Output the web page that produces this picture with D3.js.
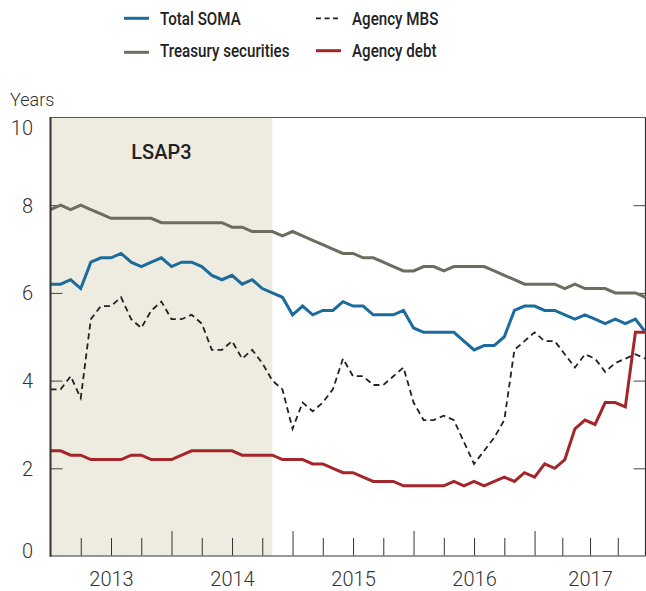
<!DOCTYPE html>
<html>
<head>
<meta charset="utf-8">
<script src="https://cdn.jsdelivr.net/npm/d3@7"></script>
<style>
  body { margin: 0; background: #fff; }
  svg { font-family: Roboto, "Open Sans", sans-serif; }
</style>
</head>
<body>
<div id="chart"></div>
<script>
// monthly observations, Jan 2013 - Dec 2017
const months = d3.timeMonth.range(new Date(2013, 0, 1), new Date(2018, 0, 1));
const years = [2013, 2014, 2015, 2016, 2017];
const yTicks = [0, 2, 4, 6, 8, 10];
const lsap3 = ['2013-01', '2014-11'];

const totalSoma = [6.2,6.2,6.3,6.1,6.7,6.8,6.8,6.9,6.7,6.6,6.7,6.8,6.6,6.7,6.7,6.6,6.4,6.3,6.4,6.2,6.3,6.1,6.0,5.9,5.5,5.7,5.5,5.6,5.6,5.8,5.7,5.7,5.5,5.5,5.5,5.6,5.2,5.1,5.1,5.1,5.1,4.9,4.7,4.8,4.8,5.0,5.6,5.7,5.7,5.6,5.6,5.5,5.4,5.5,5.4,5.3,5.4,5.3,5.4,5.1];
const treasury = [7.9,8.0,7.9,8.0,7.9,7.8,7.7,7.7,7.7,7.7,7.7,7.6,7.6,7.6,7.6,7.6,7.6,7.6,7.5,7.5,7.4,7.4,7.4,7.3,7.4,7.3,7.2,7.1,7.0,6.9,6.9,6.8,6.8,6.7,6.6,6.5,6.5,6.6,6.6,6.5,6.6,6.6,6.6,6.6,6.5,6.4,6.3,6.2,6.2,6.2,6.2,6.1,6.2,6.1,6.1,6.1,6.0,6.0,6.0,5.9];
const agencyMbs = [3.8,3.8,4.1,3.6,5.4,5.7,5.7,5.9,5.4,5.2,5.6,5.8,5.4,5.4,5.5,5.3,4.7,4.7,4.9,4.5,4.7,4.4,4.0,3.8,2.9,3.5,3.3,3.5,3.8,4.5,4.1,4.1,3.9,3.9,4.1,4.3,3.5,3.1,3.1,3.2,3.1,2.6,2.1,2.4,2.7,3.1,4.7,4.9,5.1,4.9,4.9,4.6,4.3,4.6,4.5,4.2,4.4,4.5,4.6,4.5];
const agencyDebt = [2.4,2.4,2.3,2.3,2.2,2.2,2.2,2.2,2.3,2.3,2.2,2.2,2.2,2.3,2.4,2.4,2.4,2.4,2.4,2.3,2.3,2.3,2.3,2.2,2.2,2.2,2.1,2.1,2.0,1.9,1.9,1.8,1.7,1.7,1.7,1.6,1.6,1.6,1.6,1.6,1.7,1.6,1.7,1.6,1.7,1.8,1.7,1.9,1.8,2.1,2.0,2.2,2.9,3.1,3.0,3.5,3.5,3.4,5.1,5.1];

const series = [
  { name: 'Total SOMA', values: totalSoma, color: '#1b6b9c', width: 3, dash: null },
  { name: 'Treasury securities', values: treasury, color: '#6b6d5e', width: 3, dash: null },
  { name: 'Agency MBS', values: agencyMbs, color: '#222', width: 1.8, dash: '6,4' },
  { name: 'Agency debt', values: agencyDebt, color: '#a3262a', width: 3, dash: null }
];

const width = 646;
const height = 591;
const margin = { top: 117.5, right: 0.5, bottom: 35, left: 50.5 };
const plotRight = width - margin.right;
const plotBottom = height - margin.bottom;

const fmt = d3.timeFormat('%Y-%m');
const monthIndex = key => months.findIndex(m => fmt(m) === key);
const lastIndex = months.length - 1;

const x = d3.scaleLinear()
  .domain([0, lastIndex])
  .range([margin.left, plotRight]);

const y = d3.scaleLinear()
  .domain([0, 10])
  .range([plotBottom, margin.top]);

const svg = d3.select('#chart').append('svg')
  .attr('width', width)
  .attr('height', height);

// LSAP3 shading
svg.append('rect')
  .attr('x', x(monthIndex(lsap3[0])))
  .attr('y', margin.top)
  .attr('width', x(monthIndex(lsap3[1])) - x(monthIndex(lsap3[0])))
  .attr('height', plotBottom - margin.top)
  .attr('fill', '#eeebe1');

svg.append('text')
  .attr('x', (x(monthIndex(lsap3[0])) + x(monthIndex(lsap3[1]))) / 2)
  .attr('y', 159)
  .attr('text-anchor', 'middle')
  .attr('font-size', 20)
  .attr('font-weight', 500)
  .attr('fill', '#222')
  .text('LSAP3');

// frame
svg.append('line')
  .attr('x1', margin.left).attr('x2', plotRight)
  .attr('y1', margin.top).attr('y2', margin.top)
  .attr('stroke', '#555').attr('stroke-width', 1);
svg.append('line')
  .attr('x1', plotRight).attr('x2', plotRight)
  .attr('y1', margin.top).attr('y2', plotBottom)
  .attr('stroke', '#333').attr('stroke-width', 1.2);

// year boundaries (index of January) and quarter ticks; the last year spans to the final month
const yearStarts = years.map(yr => monthIndex(`${yr}-01`));
const yearEnds = yearStarts.map((s, i) => i < yearStarts.length - 1 ? yearStarts[i + 1] : lastIndex);
const quarterTicks = yearStarts.flatMap((s, i) => [1, 2, 3].map(q => s + (yearEnds[i] - s) * q / 4));

svg.append('g')
  .attr('transform', `translate(0,${plotBottom})`)
  .call(d3.axisTop(x).tickValues(yearStarts.slice(1)).tickSize(25).tickFormat(''))
  .call(g => g.select('.domain').remove())
  .call(g => g.selectAll('line').attr('stroke', '#333'));

svg.append('g')
  .attr('transform', `translate(0,${plotBottom})`)
  .call(d3.axisTop(x).tickValues(quarterTicks).tickSize(18).tickFormat(''))
  .call(g => g.select('.domain').remove())
  .call(g => g.selectAll('line').attr('stroke', '#333'));

svg.append('g')
  .attr('transform', `translate(0,${plotBottom})`)
  .call(d3.axisBottom(x)
    .tickValues(yearStarts.map((s, i) => (s + yearEnds[i]) / 2))
    .tickSize(0)
    .tickFormat((d, i) => years[i]))
  .call(g => g.select('.domain').remove())
  .call(g => g.selectAll('text')
    .attr('dy', 0).attr('y', 30)
    .attr('font-size', 20).attr('font-weight', 300)
    .attr('font-family', 'Roboto').attr('fill', '#333'));

// y axis
svg.append('g')
  .attr('transform', `translate(${margin.left},0)`)
  .call(d3.axisRight(y).tickValues(yTicks.slice(1, -1)).tickSize(12).tickFormat(''))
  .call(g => g.select('.domain').remove())
  .call(g => g.selectAll('line').attr('stroke', '#444'));

svg.append('g')
  .attr('transform', `translate(${plotRight},0)`)
  .call(d3.axisLeft(y).tickValues(yTicks.slice(1, -1)).tickSize(12).tickFormat(''))
  .call(g => g.select('.domain').remove())
  .call(g => g.selectAll('line').attr('stroke', '#444'));

svg.append('g')
  .attr('transform', 'translate(33,0)')
  .call(d3.axisLeft(y).tickValues(yTicks).tickSize(0))
  .call(g => g.select('.domain').remove())
  .call(g => g.selectAll('text')
    .attr('x', 0)
    .attr('dy', d => d === 10 ? '0.83em' : d === 0 ? '0.05em' : '0.35em')
    .attr('font-size', 20).attr('font-weight', 300)
    .attr('font-family', 'Roboto').attr('fill', '#333'));

svg.append('text')
  .attr('x', 10)
  .attr('y', 106)
  .attr('font-size', 18)
  .attr('font-weight', 300)
  .attr('fill', '#333')
  .text('Years');

// series
const line = d3.line()
  .x((d, i) => x(i))
  .y(d => y(d));

svg.append('g')
  .attr('fill', 'none')
  .attr('stroke-linejoin', 'miter')
  .selectAll('path')
  .data(series)
  .join('path')
    .attr('stroke', d => d.color)
    .attr('stroke-width', d => d.width)
    .attr('stroke-dasharray', d => d.dash)
    .attr('d', d => line(d.values));

// left and bottom axis lines drawn over the data
svg.append('line')
  .attr('x1', margin.left).attr('x2', plotRight)
  .attr('y1', plotBottom).attr('y2', plotBottom)
  .attr('stroke', '#777').attr('stroke-width', 1.5);
svg.append('line')
  .attr('x1', margin.left).attr('x2', margin.left)
  .attr('y1', margin.top - 0.5).attr('y2', plotBottom + 0.75)
  .attr('stroke', '#333').attr('stroke-width', 2);

// legend
const legendPos = [
  { lx: 124, ly: 18.3, ty: 25 },
  { lx: 124, ly: 52.3, ty: 57 },
  { lx: 316, ly: 18.3, ty: 25 },
  { lx: 316, ly: 50.7, ty: 57 }
];

const legend = svg.append('g')
  .selectAll('g')
  .data(series)
  .join('g')
    .attr('transform', (d, i) => `translate(${legendPos[i].lx},0)`);

legend.append('line')
  .attr('x1', 0).attr('x2', 25)
  .attr('y1', (d, i) => legendPos[i].ly)
  .attr('y2', (d, i) => legendPos[i].ly)
  .attr('stroke', d => d.color)
  .attr('stroke-width', d => d.dash ? 1.8 : 3)
  .attr('stroke-dasharray', d => d.dash ? '5,3.5' : null);

// legend font in the reference is a condensed face; squeeze Roboto to match
legend.append('text')
  .attr('transform', (d, i) => `translate(36,${legendPos[i].ty}) scale(0.82,1)`)
  .attr('font-size', 18.5)
  .attr('font-weight', 500)
  .attr('fill', '#222')
  .text(d => d.name);
</script>
</body>
</html>
